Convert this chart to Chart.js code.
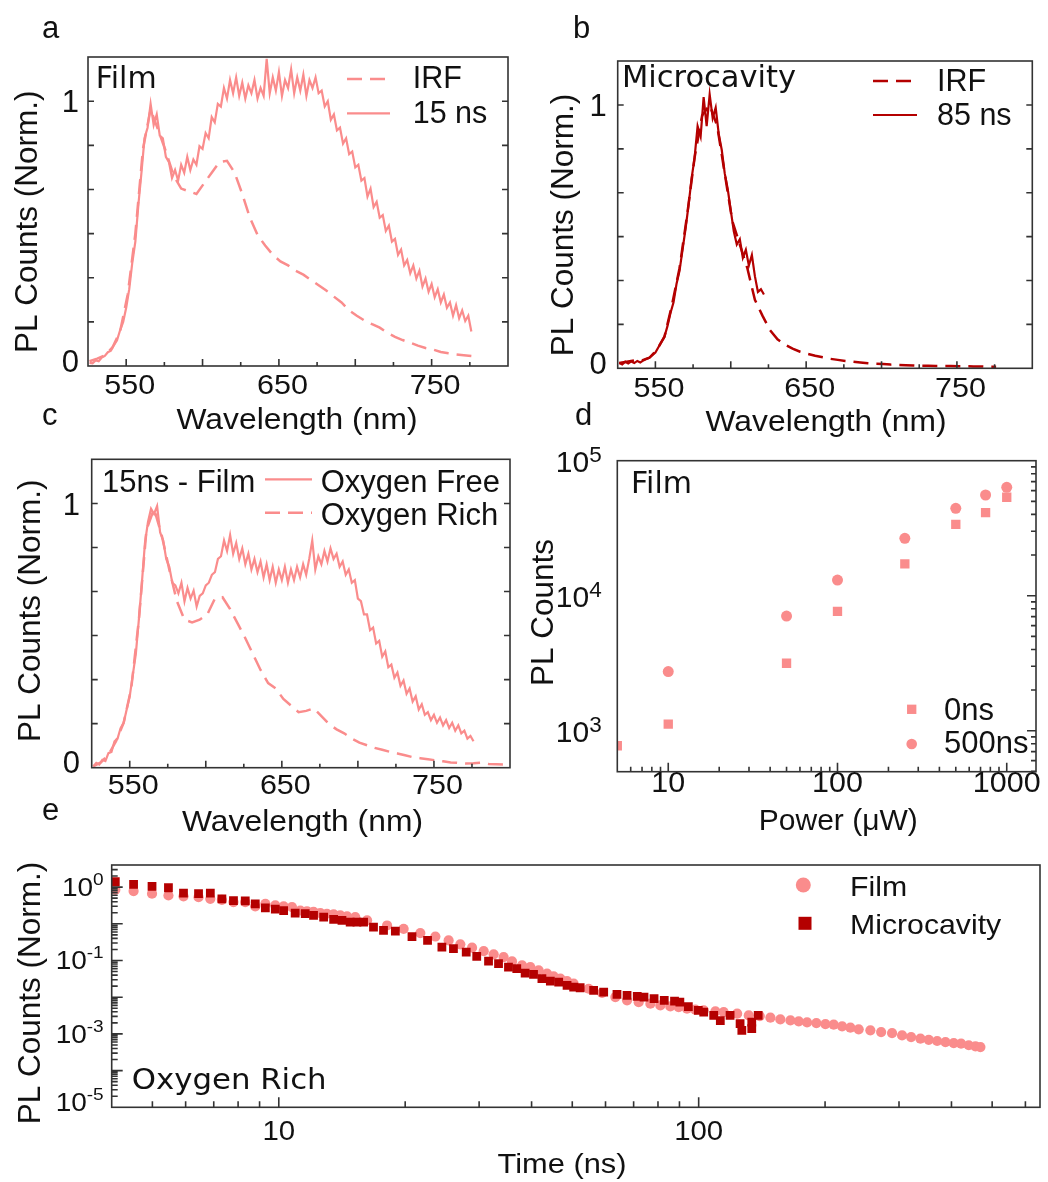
<!DOCTYPE html>
<html>
<head>
<meta charset="utf-8">
<script src="https://cdn.jsdelivr.net/npm/chart.js@4.4.1/dist/chart.umd.min.js"></script>
<style>
  body { margin: 0; background: #fff; width: 1048px; height: 1182px; position: relative; overflow: hidden; }
  canvas { position: absolute; }
  .tag { position: absolute; font: 31px "Liberation Sans", Arial, sans-serif; line-height: 31px; color: #111; }
</style>
</head>
<body>
<canvas id="pa" width="520" height="440" style="left:0;top:0"></canvas>
<canvas id="pb" width="528" height="440" style="left:520px;top:0"></canvas>
<canvas id="pc" width="520" height="400" style="left:0;top:440px"></canvas>
<canvas id="pd" width="528" height="400" style="left:520px;top:440px"></canvas>
<canvas id="pe" width="1048" height="342" style="left:0;top:840px"></canvas>
<div class="tag" style="left:42px;top:12px">a</div>
<div class="tag" style="left:573px;top:12px">b</div>
<div class="tag" style="left:42px;top:399px">c</div>
<div class="tag" style="left:575px;top:399px">d</div>
<div class="tag" style="left:42px;top:794px">e</div>
<script>
// wavelength grids (nm)
const wl2 = [526,528,530,532,534,536,538,540,542,544,
  546,548,550,552,554,556,558,560,562,564,
  566,568,570,572,574,576,578,580,582,584,
  586,588,590,592,594,596,598,600,602,604,
  606,608,610,612,614,616,618,620,622,624,
  626,628,630,632,634,636,638,640,642,644,
  646,648,650,652,654,656,658,660,662,664,
  666,668,670,672,674,676,678,680,682,684,
  686,688,690,692,694,696,698,700,702,704,
  706,708,710,712,714,716,718,720,722,724,
  726,728,730,732,734,736,738,740,742,744,
  746,748,750,752,754,756,758,760,762,764,
  766,768,770,772,774,776];
const wl5 = [526,531,536,541,546,551,556,561,566,571,
  576,581,586,591,596,601,606,611,616,621,
  626,631,636,641,646,651,656,661,666,671,
  676,681,686,691,696,701,706,711,716,721,
  726,731,736,741,746,751,756,761,766,771,
  776,781,786,791,796];

// a: film, 15 ns (on wl2) and IRF (on wl5)
const aFilm15 = [.012,.010,.021,.018,.032,.038,.052,.058,.079,.097,
  .135,.165,.22,.29,.39,.47,.61,.73,.86,.90,
  .99,.91,.95,.87,.86,.79,.77,.71,.74,.70,
  .76,.73,.79,.74,.78,.76,.83,.82,.88,.86,
  .94,.92,.99,.98,1.05,1.01,1.08,1.03,1.09,1.02,
  1.07,1.01,1.06,1.03,1.08,1.01,1.05,1.02,1.16,1.03,
  1.09,1.04,1.11,1.02,1.08,1.05,1.12,1.03,1.09,1.04,
  1.10,1.02,1.08,1.05,1.09,1.03,1.04,.98,1.00,.93,
  .95,.89,.90,.84,.86,.80,.81,.75,.76,.70,
  .71,.64,.67,.60,.62,.56,.57,.51,.53,.47,
  .48,.42,.44,.38,.40,.35,.38,.33,.36,.30,
  .33,.28,.31,.26,.29,.24,.27,.22,.24,.19,
  .23,.18,.21,.17,.19,.13];
const aIrf = [.018,.028,.04,.07,.13,.27,.50,.82,.97,.89,
  .81,.72,.67,.66,.65,.69,.73,.77,.775,.73,
  .65,.56,.495,.455,.42,.395,.38,.36,.345,.325,
  .305,.285,.262,.24,.21,.19,.172,.158,.145,.125,
  .11,.098,.088,.077,.068,.062,.053,.048,.044,.041,
  .038];

// b: microcavity, 85 ns (on wl2, first 49) and IRF (on wl5)
const bCav85 = [.02,.015,.025,.018,.026,.02,.028,.022,.03,.035,
  .04,.05,.06,.08,.10,.12,.16,.21,.25,.32,
  .37,.45,.53,.62,.72,.80,.92,.88,1.03,.92,
  1.04,.95,.99,.89,.83,.74,.68,.60,.52,.47,
  .49,.42,.45,.39,.43,.35,.29,.30,.28];
const bIrf = [.02,.025,.03,.03,.04,.07,.12,.24,.38,.58,
  .80,.96,1.0,.92,.74,.56,.47,.38,.26,.20,
  .145,.11,.09,.075,.063,.055,.048,.042,.036,.032,
  .028,.025,.022,.019,.017,.016,.014,.013,.012,.011,
  .01,.01,.009,.009,.009,.008,.008,.007,.007,.006,
  .006];

// c: 15 ns film, oxygen free (wl2) and oxygen rich (wl5)
const cFree = [.005,.018,.012,.03,.025,.055,.06,.10,.11,.15,
  .17,.22,.27,.35,.43,.56,.70,.85,.93,.98,
  .96,.99,.89,.86,.79,.76,.70,.69,.66,.70,
  .63,.68,.64,.67,.61,.65,.66,.69,.70,.73,
  .74,.79,.80,.86,.82,.88,.81,.85,.79,.83,
  .77,.81,.75,.79,.74,.78,.72,.77,.71,.76,
  .70,.75,.71,.76,.70,.75,.71,.76,.72,.77,
  .73,.79,.86,.75,.80,.77,.82,.78,.83,.79,
  .81,.76,.78,.73,.75,.70,.71,.64,.63,.58,
  .58,.52,.53,.47,.48,.42,.44,.38,.39,.34,
  .36,.31,.33,.28,.30,.25,.27,.22,.24,.20,
  .21,.18,.20,.17,.19,.16,.18,.15,.17,.14,
  .16,.13,.14,.11,.12,.10];
const cRich = [.005,.02,.05,.10,.17,.30,.56,.90,.98,.88,
  .75,.63,.56,.55,.56,.58,.64,.645,.60,.545,
  .49,.43,.37,.32,.30,.26,.235,.21,.215,.225,
  .195,.165,.145,.13,.11,.095,.085,.075,.068,.06,
  .054,.047,.04,.036,.032,.028,.024,.02,.018,.016,
  .017,.019,.014,.013,.012];

// d: power dependence (uW -> counts)
const dPower = [5, 10, 50, 100, 250, 500, 750, 1000];
const d0ns = [774, 1120, 3160, 7660, 17200, 33800, 41200, 53600];
const d500ns = [null, 2740, 7070, 13060, 26600, 44400, 55700, 63500];

// e: decays, oxygen rich
const eFilmT = [4.08,4.51,4.99,5.46,5.93,6.44,6.87,7.32,7.80,8.32,8.79,9.29,9.81,
  10.27,10.75,11.25,11.67,12.10,12.56,13.02,13.51,14.01,14.54,15.21,16.23,18.11,19.83,
  21.73,23.60,25.38,27.06,28.86,30.76,32.49,34.31,35.93,37.96,39.73,41.58,43.54,45.14,
  46.84,48.59,50.38,54.70,58.88,63.33,67.52,71.96,76.73,81.05,85.60,89.6,93.8,98.2,
  102.8,109.6,114.7,123.5,131.6,139.8,148.2,156.5,165.4,173.1,181.2,190.7,200.4,209.7,
  219.6,229.8,240.5,256.4,272.0,288.8,305.1,320.6,337.4,353.1,369.8,387.1,405.0,421.7,
  439.8,456.2,468.8];
const eFilmV = [.85,.78,.66,.59,.56,.53,.48,.45,.39,.39,.30,.35,.32,
  .30,.285,.23,.22,.21,.196,.188,.18,.17,.159,.152,.124,.090,.073,
  .056,.045,.0353,.0275,.0223,.0180,.0147,.0124,.00945,.00735,.0066,.0054,.00437,.0037,
  .00319,.00275,.00233,.0017,.0013,.00101,.00082,.00073,.000665,.000598,.000561,.000537,.000486,.000456,
  .000437,.00041,.000393,.000355,.000319,.000305,.000276,.000248,.000233,.000219,.000206,.000197,.000185,.000178,
  .00016,.000148,.000133,.000125,.000112,.000105,.000091,.000082,.000074,.000069,.000064,.00006,.000056,.000054,
  .000049,.000046,.0000437];
const eCavT = [4.08,4.51,4.99,5.46,5.93,6.44,6.87,7.32,7.80,8.32,8.79,9.29,9.81,
  10.27,10.94,11.56,12.10,12.79,13.51,14.14,14.79,15.35,15.92,16.81,17.76,18.95,
  20.76,22.61,24.46,26.06,27.95,29.61,31.59,33.37,35.24,36.88,38.61,40.43,42.33,44.33,
  46.41,48.59,50.38,52.21,56.21,59.4,63.89,67.52,71.4,74.1,78.3,82.8,87.6,90.2,
  94.5,99.8,102.8,108.6,112.6,118.8,125.5,126.7,133.8,133.8,138.6];
const eCavV = [1.4,1.19,1.04,.96,.69,.66,.69,.48,.43,.42,.35,.27,.25,
  .23,.196,.188,.17,.152,.132,.124,.111,.111,.111,.081,.066,.063,
  .045,.0353,.0232,.021,.0169,.0129,.0096,.0082,.0066,.006,.0045,.0042,.0032,.00275,
  .00258,.0021,.00188,.00181,.00153,.00138,.00119,.00112,.00105,.001,.00091,.00082,.00078,.00073,
  .00055,.00044,.00039,.00032,.00023,.00032,.00019,.000125,.000139,.00021,.00032];

// tick labels
const wlTicks = [550, 650, 750];
const wlLabels = ['550', '650', '750'];
const normTicks = [0, 1];
const normLabels = ['0', '1'];
const dXTicks = [10, 100, 1000];
const dXLabels = ['10', '100', '1000'];
const dYTicks = [1e3, 1e4, 1e5];
const dYLabels = [['10', '3'], ['10', '4'], ['10', '5']];
const eXTicks = [10, 100];
const eXLabels = ['10', '100'];
const eYTicks = [1, 1e-2, 1e-4, 1e-6];
const eYLabels = [['10', '0'], ['10', '-1'], ['10', '-3'], ['10', '-5']];

const SANS = '"Liberation Sans", Arial, sans-serif';
const VERD = '"DejaVu Sans", Verdana, sans-serif';
const PINK = '#fa8c8c';
const RED = '#b40000';
const INK = '#111';

function xy(xs, ys) {
  return ys.map((y, i) => ({ x: xs[i], y: y })).filter(p => p.y !== null);
}

function linMarks(from, to, step, isMajor, maj, min) {
  const out = [];
  for (let v = from; v <= to + 1e-9; v += step) out.push([v, isMajor(v) ? maj : min]);
  return out;
}

function logMarks(lo, hi, maj, min) {
  const out = [];
  for (let d = Math.floor(Math.log10(lo)); d <= Math.ceil(Math.log10(hi)); d++) {
    for (let m = 1; m < 10; m++) {
      const v = m * Math.pow(10, d);
      if (v > lo * 1.002 && v < hi * 0.998) out.push([v, m === 1 ? maj : min]);
    }
  }
  return out;
}

function txt(ctx, it) {
  ctx.save();
  ctx.font = it.size + 'px ' + (it.fam || SANS);
  ctx.fillStyle = INK;
  ctx.textBaseline = 'alphabetic';
  ctx.textAlign = it.align || 'left';
  ctx.translate(it.x, it.y);
  if (it.rot) ctx.rotate(-Math.PI / 2);
  ctx.scale(it.sx || 1, 1);
  ctx.fillText(it.t, 0, 0);
  ctx.restore();
}

function textWidth(ctx, t, size, sx) {
  ctx.save();
  ctx.font = size + 'px ' + SANS;
  const w = ctx.measureText(t).width * (sx || 1);
  ctx.restore();
  return w;
}

// frame, inward ticks, tick labels, notes and legend of one panel
const panelDeco = {
  id: 'panelDeco',
  afterDatasetsDraw(chart, args, o) {
    const ctx = chart.ctx;
    const a = chart.chartArea;
    const sx = chart.scales.x, sy = chart.scales.y;

    ctx.save();
    ctx.strokeStyle = '#333';
    ctx.lineWidth = 1.6;
    ctx.beginPath();
    o.xMarks.forEach(([v, len]) => {
      const p = sx.getPixelForValue(v);
      ctx.moveTo(p, a.bottom); ctx.lineTo(p, a.bottom - len);
    });
    o.yMarks.forEach(([v, len]) => {
      const p = sy.getPixelForValue(v);
      if (o.ySides.includes('left')) { ctx.moveTo(a.left, p); ctx.lineTo(a.left + len, p); }
      if (o.ySides.includes('right')) { ctx.moveTo(a.right, p); ctx.lineTo(a.right - len, p); }
    });
    ctx.stroke();
    ctx.strokeRect(a.left, a.top, a.right - a.left, a.bottom - a.top);
    ctx.restore();

    // tick labels
    const xl = o.xLab, yl = o.yLab;
    o.xTicks.forEach((v, i) => {
      txt(ctx, { t: o.xLabels[i], x: sx.getPixelForValue(v) + xl.dx, y: a.bottom + xl.dy,
        size: xl.size, sx: xl.sx, align: 'center' });
    });
    o.yTicks.forEach((v, i) => {
      const c = Math.min(sy.getPixelForValue(v), a.bottom - 5.5);
      const base = c + yl.size * 0.36;
      const right = a.left - yl.gap;
      const lab = o.yLabels[i];
      if (Array.isArray(lab)) {
        const es = yl.size * yl.expScale;
        const we = textWidth(ctx, lab[1], es, yl.sx);
        const wb = textWidth(ctx, lab[0], yl.size, yl.sx);
        txt(ctx, { t: lab[0], x: right - we - wb, y: base, size: yl.size, sx: yl.sx });
        txt(ctx, { t: lab[1], x: right - we, y: base - yl.size * yl.raise, size: es, sx: yl.sx });
      } else {
        txt(ctx, { t: lab, x: right, y: base, size: yl.size, sx: yl.sx, align: 'right' });
      }
    });

    // free text, page coordinates
    o.texts.forEach(t => txt(ctx, Object.assign({}, t, { x: t.x - o.ox, y: t.y - o.oy })));

    // legend samples
    o.legend.forEach(l => {
      const ds = chart.data.datasets[l.ds];
      ctx.save();
      if (l.x1 !== undefined) {
        ctx.strokeStyle = ds.borderColor;
        ctx.lineWidth = ds.borderWidth;
        ctx.setLineDash(ds.borderDash || []);
        ctx.beginPath();
        ctx.moveTo(l.x0 - o.ox, l.y - o.oy);
        ctx.lineTo(l.x1 - o.ox, l.y - o.oy);
        ctx.stroke();
      } else {
        ctx.fillStyle = ds.backgroundColor;
        const x = l.x - o.ox, y = l.y - o.oy;
        ctx.beginPath();
        if (ds.pointStyle === 'rect') {
          const h = l.r * Math.SQRT1_2;
          ctx.rect(x - h, y - h, 2 * h, 2 * h);
        } else {
          ctx.arc(x, y, l.r, 0, Math.PI * 2);
        }
        ctx.fill();
      }
      ctx.restore();
    });
  }
};

function makePanel(id, box, xScale, yScale, datasets, deco) {
  const cv = document.getElementById(id);
  const ox = parseFloat(cv.style.left) || 0;
  const oy = parseFloat(cv.style.top) || 0;
  const W = cv.width, H = cv.height;
  const L = box[0] - ox, T = box[1] - oy, R = box[2] - ox, B = box[3] - oy;
  const hidden = { ticks: { display: false }, grid: { display: false }, border: { display: false } };
  return new Chart(cv, {
    type: 'line',
    data: { datasets: datasets },
    options: {
      responsive: false,
      animation: false,
      events: [],
      layout: { padding: { left: 0, top: T, right: W - R, bottom: 0 } },
      plugins: {
        legend: { display: false },
        tooltip: { enabled: false },
        panelDeco: Object.assign({ ox: ox, oy: oy }, deco)
      },
      scales: {
        x: Object.assign({}, hidden, xScale, { afterFit: s => { s.height = H - B; } }),
        y: Object.assign({}, hidden, yScale, { afterFit: s => { s.width = L; } })
      }
    },
    plugins: [panelDeco]
  });
}

function lineSet(xs, ys, color, dashed) {
  return {
    data: xy(xs, ys), borderColor: color, borderWidth: dashed ? 2.5 : 2.2,
    borderDash: dashed ? [15, 8] : [], pointRadius: 0, tension: 0, fill: false
  };
}

function dotSet(xs, ys, color, style, r) {
  return {
    data: xy(xs, ys), showLine: false, pointStyle: style, pointRadius: r,
    backgroundColor: color, borderWidth: 0
  };
}

const wlX = { type: 'linear', min: 525, max: 800 };
const normY = { type: 'linear', min: 0, max: 1.167 };
const wlMarks = linMarks(550, 775, 25, v => (v - 550) % 50 === 0, 7, 4);
const normMarks = linMarks(1 / 6, 1.0001, 1 / 6, () => true, 6, 6);
const specLabels = {
  xTicks: wlTicks, xLabels: wlLabels, yTicks: normTicks, yLabels: normLabels,
  xMarks: wlMarks, yMarks: normMarks, ySides: ['left', 'right']
};

// a
makePanel('pa', [88, 57, 508, 366], wlX, normY,
  [lineSet(wl2, aFilm15, PINK, false), lineSet(wl5, aIrf, PINK, true)],
  Object.assign({}, specLabels, {
    xLab: { dx: 3.5, dy: 28, size: 27, sx: 1.13 },
    yLab: { gap: 9, size: 31 },
    texts: [
      { t: 'Film', x: 95.7, y: 88.3, size: 30, fam: VERD },
      { t: 'IRF', x: 412.7, y: 88.3, size: 30.5 },
      { t: '15 ns', x: 412.7, y: 123.3, size: 30.5 },
      { t: 'Wavelength (nm)', x: 297, y: 429, size: 30, sx: 1.06, align: 'center' },
      { t: 'PL Counts (Norm.)', x: 36.7, y: 221.7, size: 31.5, rot: true, align: 'center' }
    ],
    legend: [{ ds: 1, x0: 347, x1: 390, y: 79 }, { ds: 0, x0: 347, x1: 390, y: 113.3 }]
  }));

// b
makePanel('pb', [617.7, 61, 1032.3, 368.3], wlX, normY,
  [lineSet(wl2, bCav85, RED, false), lineSet(wl5, bIrf, RED, true)],
  Object.assign({}, specLabels, {
    xLab: { dx: 3.5, dy: 28.4, size: 27, sx: 1.13 },
    yLab: { gap: 11, size: 31 },
    texts: [
      { t: 'Microcavity', x: 622, y: 87, size: 30.5, fam: VERD },
      { t: 'IRF', x: 937, y: 91, size: 30.5 },
      { t: '85 ns', x: 937, y: 125, size: 30.5 },
      { t: 'Wavelength (nm)', x: 826, y: 431, size: 30, sx: 1.06, align: 'center' },
      { t: 'PL Counts (Norm.)', x: 573.3, y: 225, size: 31.5, rot: true, align: 'center' }
    ],
    legend: [{ ds: 1, x0: 873, x1: 917, y: 81 }, { ds: 0, x0: 873, x1: 917, y: 115 }]
  }));

// c
makePanel('pc', [91.7, 459.3, 510, 767.7], wlX, normY,
  [lineSet(wl2, cFree, PINK, false), lineSet(wl5, cRich, PINK, true)],
  Object.assign({}, specLabels, {
    xLab: { dx: 3.5, dy: 26.3, size: 27, sx: 1.13 },
    yLab: { gap: 11.7, size: 31 },
    texts: [
      { t: '15ns - Film', x: 102, y: 491.7, size: 31 },
      { t: 'Oxygen Free', x: 320.7, y: 491.7, size: 31 },
      { t: 'Oxygen Rich', x: 320.7, y: 525, size: 31 },
      { t: 'Wavelength (nm)', x: 302.5, y: 831, size: 30, sx: 1.06, align: 'center' },
      { t: 'PL Counts (Norm.)', x: 40, y: 610.8, size: 31.5, rot: true, align: 'center' }
    ],
    legend: [{ ds: 0, x0: 265, x1: 312, y: 479.3 }, { ds: 1, x0: 265, x1: 312, y: 512.7 }]
  }));

// d
makePanel('pd', [617.3, 460.7, 1036, 771.7],
  { type: 'logarithmic', min: 5, max: 1489 },
  { type: 'logarithmic', min: 497, max: 1e5 },
  [dotSet(dPower, d0ns, PINK, 'rect', 6.6), dotSet(dPower, d500ns, PINK, 'circle', 5.5)],
  {
    xTicks: dXTicks, xLabels: dXLabels, yTicks: dYTicks, yLabels: dYLabels,
    xMarks: logMarks(5, 1489, 9, 5), yMarks: logMarks(497, 1e5, 9, 5), ySides: ['right'],
    xLab: { dx: 0, dy: 20, size: 29, sx: 1.05 },
    yLab: { gap: 15.6, size: 30, expScale: 0.75, raise: 0.33 },
    texts: [
      { t: 'Film', x: 631, y: 493.3, size: 30, fam: VERD },
      { t: '0ns', x: 944, y: 720, size: 31 },
      { t: '500ns', x: 944, y: 753.3, size: 31 },
      { t: 'Power (\u03bcW)', x: 838.3, y: 830, size: 30, align: 'center' },
      { t: 'PL Counts', x: 553.3, y: 612.5, size: 31.5, rot: true, align: 'center' }
    ],
    legend: [{ ds: 0, x: 911.7, y: 709.3, r: 6.6 }, { ds: 1, x: 911.7, y: 744, r: 5.3 }]
  });

// e
makePanel('pe', [111.7, 865, 1040, 1107.3],
  { type: 'logarithmic', min: 4, max: 650 },
  { type: 'logarithmic', min: 1e-6, max: 4 },
  [dotSet(eCavT, eCavV, RED, 'rect', 6.2), dotSet(eFilmT, eFilmV, PINK, 'circle', 5.1)],
  {
    xTicks: eXTicks, xLabels: eXLabels, yTicks: eYTicks, yLabels: eYLabels,
    xMarks: logMarks(4, 650, 10, 6), yMarks: logMarks(1e-6, 4, 11, 6), ySides: ['left'],
    xLab: { dx: 0, dy: 33, size: 28, sx: 1.05 },
    yLab: { gap: 8, size: 25, sx: 1.12, expScale: 0.68, raise: 0.45 },
    texts: [
      { t: 'Oxygen Rich', x: 131.7, y: 1089, size: 28, sx: 1.1, fam: VERD },
      { t: 'Film', x: 850, y: 895.5, size: 28, sx: 1.08 },
      { t: 'Microcavity', x: 850, y: 934, size: 28, sx: 1.08 },
      { t: 'Time (ns)', x: 562, y: 1173, size: 28, sx: 1.1, align: 'center' },
      { t: 'PL Counts (Norm.)', x: 40, y: 993, size: 31.5, rot: true, align: 'center' }
    ],
    legend: [{ ds: 1, x: 803.3, y: 885, r: 7.5 }, { ds: 0, x: 805, y: 923.3, r: 9.2 }]
  });
</script>
</body>
</html>
